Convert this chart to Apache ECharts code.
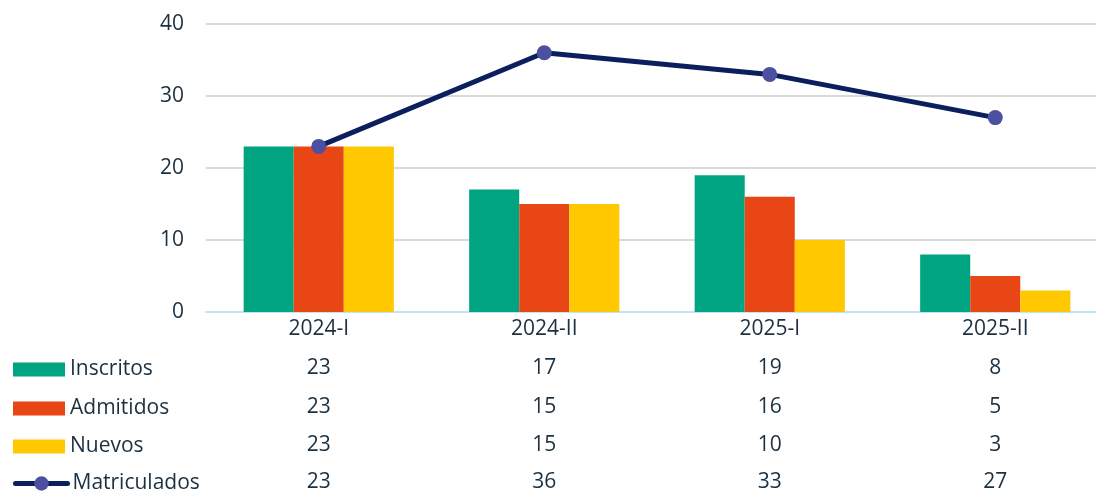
<!DOCTYPE html>
<html>
<head>
<meta charset="utf-8">
<script src="https://cdn.jsdelivr.net/npm/echarts@6/dist/echarts.min.js"></script>
<style>
  html, body { margin: 0; padding: 0; background: #fff; }
  #chart { width: 1096px; height: 491px; }
</style>
</head>
<body>
<div id="chart"></div>
<script>
var periods = ['2024-I', '2024-II', '2025-I', '2025-II']
var inscritos = [23, 17, 19, 8]
var admitidos = [23, 15, 16, 5]
var nuevos = [23, 15, 10, 3]
var matriculados = [23, 36, 33, 27]
var yTicks = { min: 0, max: 40, interval: 10 }

var textColor = '#1b3040'
var fontFamily = '"Open Sans", "Noto Sans", sans-serif'
var fontSize = 21

// one hidden axis per table row, so the values line up under each period
function tableAxis (values, offset) {
  return {
    type: 'category',
    data: values.map(String),
    position: 'bottom',
    offset: offset,
    axisLine: { show: false },
    axisTick: { show: false },
    axisLabel: { color: textColor, fontSize: fontSize, fontFamily: fontFamily, margin: 7 }
  }
}

// one legend per table row
function rowLegend (name, top, extra) {
  var legend = {
    orient: 'vertical',
    left: 13,
    top: top,
    padding: 0,
    icon: 'rect',
    itemWidth: 52,
    itemHeight: 14,
    textStyle: { color: textColor, fontSize: fontSize },
    data: [name]
  }
  return Object.assign(legend, extra || {})
}

var chart = echarts.init(document.getElementById('chart'))

chart.setOption({
  animation: false,
  textStyle: { fontFamily: fontFamily },
  grid: { left: 206, width: 902, top: 24, bottom: 179, outerBoundsMode: 'none' },
  legend: [
    rowLegend('Inscritos', 359),
    rowLegend('Admitidos', 398),
    rowLegend('Nuevos', 436),
    rowLegend('Matriculados', 473, {
      icon: null,
      itemHeight: 18,
      lineStyle: { width: 5, cap: 'round' }
    })
  ],
  xAxis: [
    {
      type: 'category',
      data: periods,
      axisLine: { lineStyle: { color: '#c3e4f4', width: 2 } },
      axisTick: { show: false },
      axisLabel: { color: textColor, fontSize: fontSize, margin: 7 }
    },
    tableAxis(inscritos, 39),
    tableAxis(admitidos, 78),
    tableAxis(nuevos, 116),
    tableAxis(matriculados, 153)
  ],
  yAxis: {
    type: 'value',
    min: yTicks.min,
    max: yTicks.max,
    interval: yTicks.interval,
    axisLine: { show: false },
    axisTick: { show: false },
    axisLabel: { color: textColor, fontSize: fontSize, margin: 22 },
    splitLine: { lineStyle: { color: '#d9d9d9', width: 2 } }
  },
  series: [
    {
      name: 'Inscritos',
      type: 'bar',
      data: inscritos,
      barGap: 0,
      barCategoryGap: '33.4%',
      itemStyle: { color: '#00a480' }
    },
    {
      name: 'Admitidos',
      type: 'bar',
      data: admitidos,
      itemStyle: { color: '#e84615' }
    },
    {
      name: 'Nuevos',
      type: 'bar',
      data: nuevos,
      itemStyle: { color: '#ffc800' }
    },
    {
      name: 'Matriculados',
      type: 'line',
      data: matriculados,
      z: 5,
      symbol: 'circle',
      symbolSize: 15,
      lineStyle: { color: '#0b1f5e', width: 5 },
      itemStyle: { color: '#4b51a0' }
    }
  ]
})
</script>
</body>
</html>
